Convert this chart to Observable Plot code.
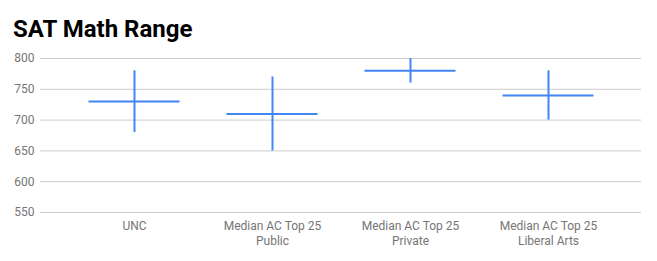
<!DOCTYPE html>
<html>
<head>
<meta charset="utf-8">
<script src="https://cdn.jsdelivr.net/npm/d3@7"></script>
<script src="https://cdn.jsdelivr.net/npm/@observablehq/plot@0.6"></script>
<style>
  html, body { margin: 0; padding: 0; background: #fff; }
  #title { font-family: Roboto, sans-serif; font-weight: bold; font-size: 24px; color: #000;
           height: 48px; box-sizing: border-box; padding: 15px 0 0 13px; line-height: 28px; }
</style>
</head>
<body>
<div id="title">SAT Math Range</div>
<div id="chart"></div>
<script>
const categories = ["UNC", "Median AC Top 25\nPublic", "Median AC Top 25\nPrivate", "Median AC Top 25\nLiberal Arts"];
const medians = [730, 710, 780, 740];
const lows = [680, 650, 760, 700];
const highs = [780, 770, 800, 780];
const yTicks = [550, 600, 650, 700, 750, 800];

const data = categories.map((c, i) => ({cat: c, median: medians[i], low: lows[i], high: highs[i]}));

const blue = "#4285f4";
const chart = Plot.plot({
  width: 657,
  height: 213,
  marginLeft: 40,
  marginRight: 16,
  marginTop: 10,
  marginBottom: 49,
  style: {fontFamily: "Roboto, sans-serif", fontSize: "12px", color: "#757575", background: "#fff"},
  x: {domain: categories, paddingInner: 0, paddingOuter: 0.167, label: null},
  y: {domain: [550, 800], ticks: yTicks, label: null},
  marks: [
    Plot.gridY(yTicks, {stroke: "#cccccc", strokeOpacity: 1}),
    Plot.axisY(yTicks, {tickSize: 0, tickPadding: 6, fill: "#757575", label: null}),
    Plot.axisX({tickSize: 0, tickPadding: 6, fill: "#757575", label: null, lineHeight: 1.3}),
    Plot.ruleX(data, {x: "cat", y1: "low", y2: "high", stroke: blue, strokeWidth: 2}),
    Plot.tickY(data, {x: "cat", y: "median", stroke: blue, strokeWidth: 2, insetLeft: 23.5, insetRight: 23.5})
  ]
});
document.getElementById("chart").appendChild(chart);
</script>
</body>
</html>
